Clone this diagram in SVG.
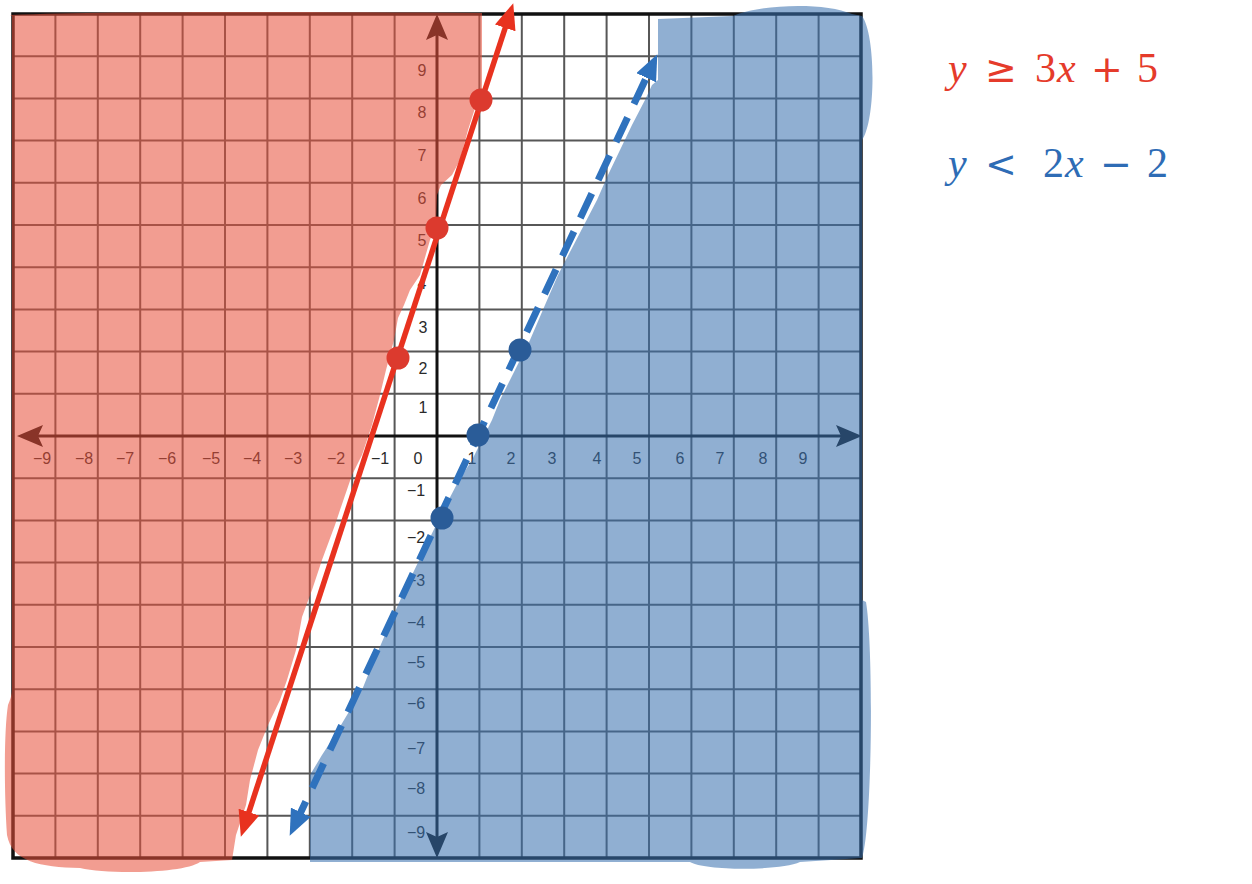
<svg xmlns="http://www.w3.org/2000/svg" width="1252" height="884" viewBox="0 0 1252 884">
<style>
.grid{stroke:#3a3a3a;stroke-width:2;fill:none;opacity:.85}
.axis{stroke:#111;stroke-width:3;fill:none}
.frame{stroke:#111;stroke-width:3.5;fill:none}
.tick{font-family:"Liberation Sans",Arial,sans-serif;font-size:16px;fill:#2a2a2a;text-anchor:middle}
.redshade{fill:rgb(232,80,58);fill-opacity:.56}
.blueshade{fill:rgb(57,113,175);fill-opacity:.56}
.redline{stroke:#E8321F;stroke-width:5.5;fill:none}
.blueline{stroke:#2F72BD;stroke-width:7;fill:none;stroke-dasharray:27 15}
.rdot{fill:#DC3A2E}
.bdot{fill:#2A5C98}
.eq{font-family:"Liberation Serif","Times New Roman",serif;font-size:42px}
.it{font-style:italic}
.op{font-family:"DejaVu Sans","Liberation Sans",sans-serif;font-size:38px}
</style>
<defs>
<marker id="arrRed" markerUnits="userSpaceOnUse" markerWidth="26" markerHeight="22" viewBox="0 0 24 20" refX="14" refY="10" orient="auto-start-reverse">
<path d="M0,0 L24,10 L0,20 Z" fill="#E8321F"/>
</marker>
<marker id="arrBlue" markerUnits="userSpaceOnUse" markerWidth="26" markerHeight="22" viewBox="0 0 24 20" refX="14" refY="10" orient="auto-start-reverse">
<path d="M0,0 L24,10 L0,20 Z" fill="#2F72BD"/>
</marker>
</defs>
<rect width="1252" height="884" fill="#fff"/>

<g id="grid">
<path class="grid" d="M55.4,14V858M97.8,14V858M140.2,14V858M182.6,14V858M225,14V858M267.4,14V858M309.8,14V858M352.2,14V858M394.6,14V858M479.4,14V858M521.8,14V858M564.2,14V858M606.6,14V858M649,14V858M691.4,14V858M733.8,14V858M776.2,14V858M818.6,14V858
M13,56.2H861M13,98.4H861M13,140.6H861M13,182.8H861M13,225H861M13,267.2H861M13,309.4H861M13,351.6H861M13,393.8H861M13,478.2H861M13,520.4H861M13,562.6H861M13,604.8H861M13,647H861M13,689.2H861M13,731.4H861M13,773.6H861M13,815.8H861"/>
<rect class="frame" x="13" y="14" width="848" height="844"/>
</g>

<g id="axes">
<path class="axis" d="M437,30V842M30,436H846"/>
<path d="M437,14 L426,40 L437,35 L448,40 Z" fill="#111"/>
<path d="M437,858 L426,832 L437,837 L448,832 Z" fill="#111"/>
<path d="M17,436 L43,425 L38,436 L43,447 Z" fill="#111"/>
<path d="M862,436 L836,425 L841,436 L836,447 Z" fill="#111"/>
</g>

<g id="tick-labels">
<text class="tick" x="42" y="464">−9</text>
<text class="tick" x="84" y="464">−8</text>
<text class="tick" x="125" y="464">−7</text>
<text class="tick" x="167" y="464">−6</text>
<text class="tick" x="211" y="464">−5</text>
<text class="tick" x="252" y="464">−4</text>
<text class="tick" x="293" y="464">−3</text>
<text class="tick" x="336" y="464">−2</text>
<text class="tick" x="380" y="464">−1</text>
<text class="tick" x="418" y="464">0</text>
<text class="tick" x="472" y="464">1</text>
<text class="tick" x="511" y="464">2</text>
<text class="tick" x="552" y="464">3</text>
<text class="tick" x="597" y="464">4</text>
<text class="tick" x="637" y="464">5</text>
<text class="tick" x="680" y="464">6</text>
<text class="tick" x="720" y="464">7</text>
<text class="tick" x="763" y="464">8</text>
<text class="tick" x="803" y="464">9</text>
<text class="tick" x="422" y="76">9</text>
<text class="tick" x="422" y="118">8</text>
<text class="tick" x="422" y="161">7</text>
<text class="tick" x="422" y="204">6</text>
<text class="tick" x="422" y="246">5</text>
<text class="tick" x="422" y="289">4</text>
<text class="tick" x="423" y="333">3</text>
<text class="tick" x="423" y="374">2</text>
<text class="tick" x="423" y="413">1</text>
<text class="tick" x="416" y="496">−1</text>
<text class="tick" x="416" y="543">−2</text>
<text class="tick" x="416" y="586">−3</text>
<text class="tick" x="416" y="628">−4</text>
<text class="tick" x="416" y="668">−5</text>
<text class="tick" x="416" y="709">−6</text>
<text class="tick" x="416" y="754">−7</text>
<text class="tick" x="416" y="794">−8</text>
<text class="tick" x="416" y="838">−9</text>
</g>

<g id="red-region">
<path class="redshade" d="M10,15 C120,11 300,12 482,13 L482,90 L476,105 L468,130 L460,160 L452,175 L441,185 L437,195 L436,225 L430,240 L420,275 L410,290 L404,305 L398,318 L394,340 L390,355 L386,370 L380,395 L372,425 L362,455 L352,475 L340,510 L335,525 L322,560 L312,590 L302,617 L296,650 L287,680 L280,700 L268,725 L258,750 L250,780 L246,805 L236,835 L232,860 L200,862 C185,873 110,875 80,868 C40,867 12,862 7,835 C4,790 4,730 8,705 C10,700 12,695 12,690 L12,16 Z"/>
</g>

<g id="blue-region">
<path class="blueshade" d="M658,19 L733,16 C760,4 825,2 852,14 L862,16 C876,35 876,120 862,140 L862,600 L866,602 C874,650 872,830 862,858 L800,862 C780,871 705,871 690,862 L310,862 L310,775 L322,755 L335,735 L350,710 L362,690 L372,665 L385,635 L398,605 L412,575 L424,550 L436,525 L446,505 L458,482 L472,460 L482,440 L492,420 L500,400 L510,380 L520,360 L530,340 L545,305 L558,275 L571,250 L584,225 L597,200 L608,175 L620,150 L632,125 L645,100 L652,85 L658,80 Z"/>
</g>

<g id="red-boundary">
<line class="redline" x1="244.2" y1="826.5" x2="509.9" y2="13.5" marker-start="url(#arrRed)" marker-end="url(#arrRed)"/>
</g>

<g id="blue-boundary">
<line class="blueline" x1="294.3" y1="826" x2="652.7" y2="64" marker-start="url(#arrBlue)" marker-end="url(#arrBlue)"/>
</g>

<g id="red-points">
<circle class="rdot" cx="398" cy="358" r="11.5"/>
<circle class="rdot" cx="437" cy="228" r="11.5"/>
<circle class="rdot" cx="481" cy="100" r="11.5"/>
</g>

<g id="blue-points">
<circle class="bdot" cx="442" cy="518" r="11.5"/>
<circle class="bdot" cx="478" cy="435" r="11.5"/>
<circle class="bdot" cx="520" cy="350" r="11.5"/>
</g>

<g id="legend-red">
<text class="eq" y="82" fill="#E53B2B"><tspan class="it" x="948">y</tspan><tspan class="op" x="985">≥</tspan><tspan x="1035">3</tspan><tspan class="it" x="1057">x</tspan><tspan class="op" x="1091">+</tspan><tspan x="1137">5</tspan></text>
</g>
<g id="legend-blue">
<text class="eq" y="177" fill="#2E6CB5"><tspan class="it" x="948">y</tspan><tspan class="op" x="985">&lt;</tspan><tspan x="1043">2</tspan><tspan class="it" x="1065">x</tspan><tspan class="op" x="1100">−</tspan><tspan x="1147">2</tspan></text>
</g>
</svg>
